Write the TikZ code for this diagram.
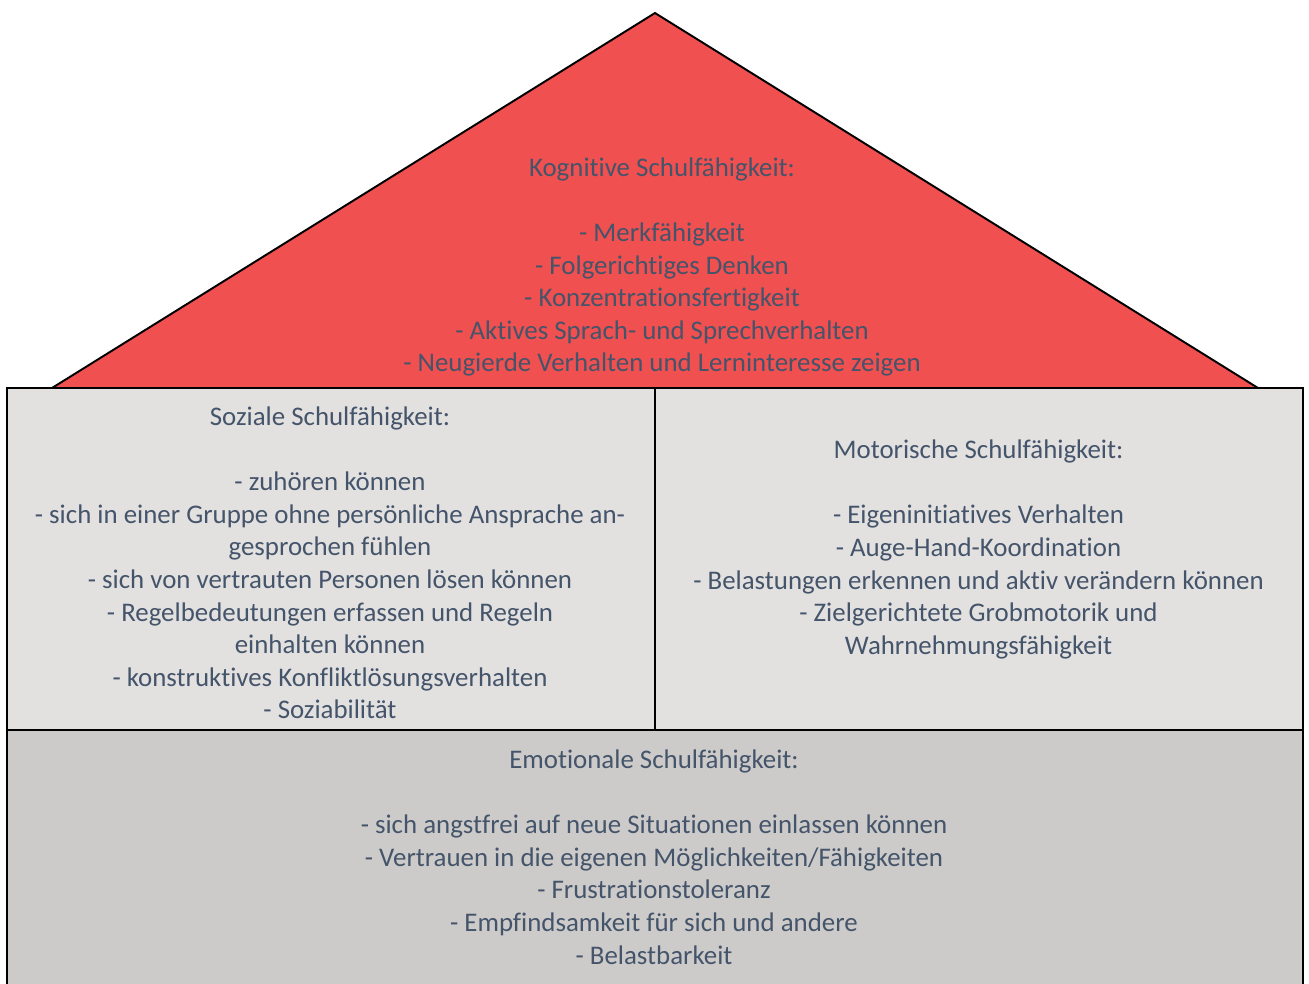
\documentclass[tikz,border=0pt]{standalone}
\usepackage{fontspec}
\setmainfont{Carlito}[Ligatures=NoCommon]
\definecolor{roofred}{HTML}{F05050}
\definecolor{walllight}{HTML}{E3E1E0}
\definecolor{walldark}{HTML}{CDCBC9}
\definecolor{textslate}{HTML}{44546A}

\begin{document}
\begin{tikzpicture}[x=0.02cm, y=-0.02cm,
        edge/.style={draw=black, line width=1.1pt},
        txt/.style={align=center, text=textslate, inner sep=0pt,
                    font=\fontsize{15.3}{18.55}\selectfont}
      ]
        \useasboundingbox (0,0) rectangle (1309,984);
        \clip (0,0) rectangle (1309,984);

        \draw[edge, fill=roofred] (52,388) -- (655,13) -- (1258,388);
        \draw[edge, fill=walllight] (7,388) rectangle (655,730);
        \draw[edge, fill=walllight] (655,388) rectangle (1303,730);
        \draw[edge, fill=walldark] (7,730) rectangle (1303,1000);

        \node[txt] (kog) at (662,267) {Kognitive Schulfähigkeit:\\[18.55pt]
            - Merkfähigkeit\\- Folgerichtiges Denken\\- Konzentrationsfertigkeit\\
            - Aktives Sprach- und Sprechverhalten\\- Neugierde Verhalten und Lerninteresse zeigen};
        \node[txt] (soz) at (330,563) {Soziale Schulfähigkeit:\\[18.55pt]
            - zuhören können\\- sich in einer Gruppe ohne persönliche Ansprache an-\\gesprochen fühlen\\
            - sich von vertrauten Personen lösen können\\- Regelbedeutungen erfassen und Regeln\\einhalten können\\
            - konstruktives Konfliktlösungsverhalten\\- Soziabilität};
        \node[txt] (mot) at (978.5,549.5) {Motorische Schulfähigkeit:\\[18.55pt]
            - Eigeninitiatives Verhalten\\- Auge-Hand-Koordination\\
            - Belastungen erkennen und aktiv verändern können\\- Zielgerichtete Grobmotorik und\\Wahrnehmungsfähigkeit};
        \node[txt] (emo) at (654,857) {Emotionale Schulfähigkeit:\\[18.55pt]
            - sich angstfrei auf neue Situationen einlassen können\\- Vertrauen in die eigenen Möglichkeiten/Fähigkeiten\\
            - Frustrationstoleranz\\- Empfindsamkeit für sich und andere\\- Belastbarkeit};
      \end{tikzpicture}
\end{document}
